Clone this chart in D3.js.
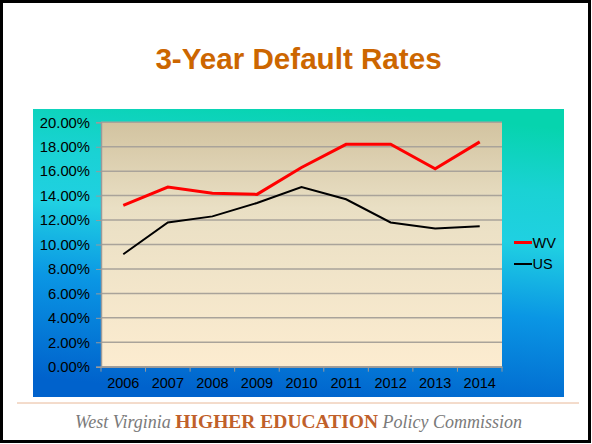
<!DOCTYPE html>
<html><head><meta charset="utf-8">
<script src="https://cdn.jsdelivr.net/npm/d3@7"></script>
<style>body{margin:0;background:#fff}svg{display:block}</style>
</head><body>
<script>
const years = ["2006","2007","2008","2009","2010","2011","2012","2013","2014"];
const wvRates = [13.2,14.7,14.2,14.1,16.3,18.2,18.2,16.2,18.4];
const usRates = [9.2,11.8,12.3,13.4,14.7,13.7,11.8,11.3,11.5];
const yTicks = [0,2,4,6,8,10,12,14,16,18,20];
const seriesNames = ["WV","US"];
const seriesColors = ["#ff0000","#000000"];

const W=592,H=444;
const svg=d3.select("body").append("svg").attr("width",W).attr("height",H);
const defs=svg.append("defs");
const bg=defs.append("linearGradient").attr("id","bg").attr("x1","0.42").attr("y1","1").attr("x2","0.58").attr("y2","0");
[[0,"#0062cc"],[0.35,"#0a96e4"],[0.6,"#20d0e2"],[0.78,"#1ad2d4"],[1,"#06d4ae"]].forEach(s=>bg.append("stop").attr("offset",s[0]).attr("stop-color",s[1]));
const pg=defs.append("linearGradient").attr("id","pg").attr("x1","0").attr("y1","0").attr("x2","0").attr("y2","1");
[[0,"#d2c3a0"],[0.35,"#e9dfc4"],[1,"#fcecd0"]].forEach(s=>pg.append("stop").attr("offset",s[0]).attr("stop-color",s[1]));

// outer frame
svg.append("rect").attr("x",1.5).attr("y",1.5).attr("width",W-4).attr("height",H-4).attr("fill","#fff").attr("stroke","#000").attr("stroke-width",3);

svg.append("text").attr("x",298.5).attr("y",69).attr("text-anchor","middle")
  .attr("font-family","Liberation Sans, Arial, sans-serif").attr("font-weight","bold").attr("font-size",29.6)
  .attr("fill","#cc6600").text("3-Year Default Rates");

// blue box
svg.append("rect").attr("x",33).attr("y",109).attr("width",531).attr("height",288).attr("fill","url(#bg)");

const m={l:101,t:122.3,r:502,b:366.7};
const x=d3.scaleBand().domain(years).range([m.l,m.r]);
const y=d3.scaleLinear().domain([0,20]).range([m.b,m.t]);

svg.append("rect").attr("x",m.l).attr("y",m.t).attr("width",m.r-m.l).attr("height",m.b-m.t).attr("fill","url(#pg)");

// gridlines
svg.append("g").selectAll("line").data(yTicks).join("line")
  .attr("x1",m.l).attr("x2",m.r).attr("y1",d=>y(d)).attr("y2",d=>y(d))
  .attr("stroke","#a9a39a").attr("stroke-width",1.5);

// y axis
const ya=svg.append("g").attr("transform",`translate(${m.l},0)`)
  .call(d3.axisLeft(y).tickValues(yTicks).tickSize(5).tickPadding(6).tickFormat(d=>d.toFixed(2)+"%"));
ya.select(".domain").attr("stroke","#9a9a9a").attr("stroke-width",1.5);
ya.selectAll(".tick line").attr("stroke","#9a9a9a");
ya.selectAll("text").attr("font-family","Liberation Sans, Arial, sans-serif").attr("font-size",14.8).attr("fill","#000");

// x axis
const xa=svg.append("g").attr("transform",`translate(0,${m.b})`)
  .call(d3.axisBottom(x).tickSize(0).tickPadding(11));
xa.select(".domain").attr("stroke","#9a9a9a").attr("stroke-width",1.5);
xa.selectAll("text").attr("font-family","Liberation Sans, Arial, sans-serif").attr("font-size",14.5).attr("fill","#000");
svg.append("g").selectAll("line").data(d3.range(years.length+1)).join("line")
  .attr("x1",i=>m.l+i*x.step()).attr("x2",i=>m.l+i*x.step()).attr("y1",m.b).attr("y2",m.b+5)
  .attr("stroke","#9a9a9a");

const line=d3.line().x((d,i)=>x(years[i])+x.bandwidth()/2).y(d=>y(d));
svg.append("path").datum(usRates).attr("d",line).attr("fill","none").attr("stroke",seriesColors[1]).attr("stroke-width",2);
svg.append("path").datum(wvRates).attr("d",line).attr("fill","none").attr("stroke",seriesColors[0]).attr("stroke-width",3);

// legend
const lg=svg.append("g").selectAll("g").data(seriesNames).join("g")
  .attr("transform",(d,i)=>`translate(514,${242.5+i*21.5})`);
lg.append("line").attr("x1",0).attr("x2",18).attr("stroke",(d,i)=>seriesColors[i]).attr("stroke-width",(d,i)=>i==0?3:2);
lg.append("text").attr("x",18.5).attr("y",5.3).attr("font-family","Liberation Sans, Arial, sans-serif").attr("font-size",14.5).text(d=>d);

// footer
svg.append("line").attr("x1",17).attr("x2",579).attr("y1",403).attr("y2",403).attr("stroke","#e8b898").attr("stroke-width",1);
const ft=svg.append("text").attr("x",298.5).attr("y",428).attr("text-anchor","middle")
  .attr("font-family","Liberation Serif, Times New Roman, serif").attr("font-size",18);
ft.append("tspan").attr("font-style","italic").attr("fill","#7a7a7a").text("West Virginia ");
ft.append("tspan").attr("fill","#c0602a").attr("font-weight","bold").attr("font-size",19.5).text("HIGHER EDUCATION");
ft.append("tspan").attr("font-style","italic").attr("fill","#7a7a7a").text(" Policy Commission");
</script>
</body></html>
